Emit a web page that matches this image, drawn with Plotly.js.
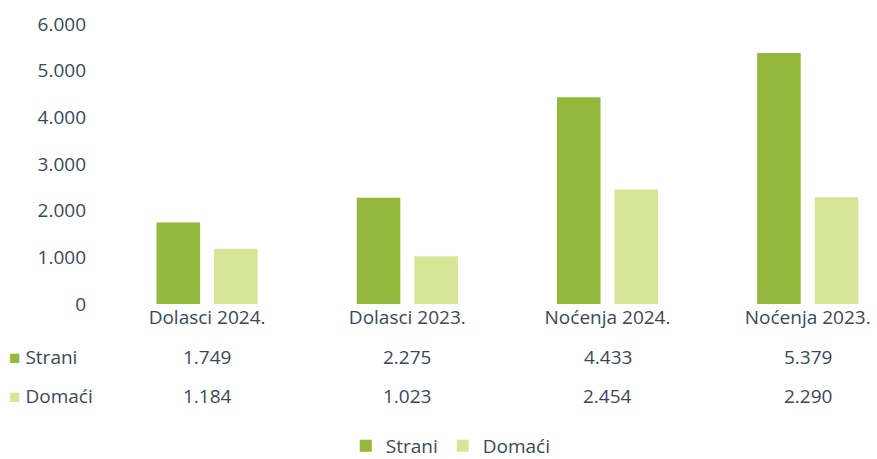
<!DOCTYPE html>
<html>
<head>
<meta charset="utf-8">
<script src="https://cdn.plot.ly/plotly-3.0.1.min.js"></script>
<style>html,body{margin:0;padding:0;background:#fff;}#chart{width:877px;height:459px;}</style>
</head>
<body>
<div id="chart"></div>
<script>
const categories = ['Dolasci 2024.', 'Dolasci 2023.', 'Noćenja 2024.', 'Noćenja 2023.'];
const strani = [1749, 2275, 4433, 5379];
const domaci = [1184, 1023, 2454, 2290];
const seriesNames = ['Strani', 'Domaći'];
const yTicks = [0, 1000, 2000, 3000, 4000, 5000, 6000];

const cStrani = '#94b83b';
const cDomaci = '#d6e699';
const txt = '#3a485a';
const fnt = 'Open Sans, sans-serif';
const fs = 19;

function fmt(v) {
  return String(v).replace(/\B(?=(\d{3})+(?!\d))/g, '.');
}

const traces = [
  {type: 'bar', name: seriesNames[0], x: categories, y: strani, marker: {color: cStrani}, hoverinfo: 'y'},
  {type: 'bar', name: seriesNames[1], x: categories, y: domaci, marker: {color: cDomaci}, hoverinfo: 'y'}
];

const annotations = [];
const rows = [[seriesNames[0], strani, cStrani, 357], [seriesNames[1], domaci, cDomaci, 396]];
rows.forEach(r => {
  annotations.push({
    xref: 'paper', yref: 'paper', x: (7 - 107) / 770, xanchor: 'left',
    y: (304 - r[3]) / 280, yanchor: 'middle', showarrow: false,
    text: '<span style="color:' + r[2] + '">■</span> ' + r[0],
    font: {family: fnt, size: fs, color: txt}
  });
  categories.forEach((c, i) => {
    annotations.push({
      xref: 'x', yref: 'paper', x: c, y: (304 - r[3]) / 280, yanchor: 'middle',
      showarrow: false, text: fmt(r[1][i]),
      font: {family: fnt, size: fs, color: txt}
    });
  });
});

const layout = {
  width: 877, height: 459,
  margin: {l: 107, r: 0, t: 24, b: 155},
  paper_bgcolor: '#fff', plot_bgcolor: '#fff',
  separators: ',.',
  barmode: 'group', bargap: 0.425, bargroupgap: 0.243,
  font: {family: fnt, size: fs, color: txt},
  xaxis: {
    type: 'category', range: [-0.5, 3.346], showgrid: false, showline: false,
    zeroline: false, ticks: '', tickfont: {family: fnt, size: fs, color: txt},
    ticklabelstandoff: 0
  },
  yaxis: {
    range: [0, 6000], tickvals: yTicks, ticktext: yTicks.map(fmt),
    showgrid: false, zeroline: false, showline: false, ticks: '',
    ticklabelstandoff: 20, tickfont: {family: fnt, size: fs, color: txt}
  },
  showlegend: true,
  legend: {
    orientation: 'h', xref: 'container', yref: 'container',
    x: 0.514, xanchor: 'center', y: 1 - 446 / 459, yanchor: 'middle',
    font: {family: fnt, size: fs, color: txt}, itemwidth: 30, traceorder: 'normal',
    tracegroupgap: 0
  },
  annotations: annotations
};

Plotly.newPlot('chart', traces, layout, {displayModeBar: false, staticPlot: true});
</script>
</body>
</html>
